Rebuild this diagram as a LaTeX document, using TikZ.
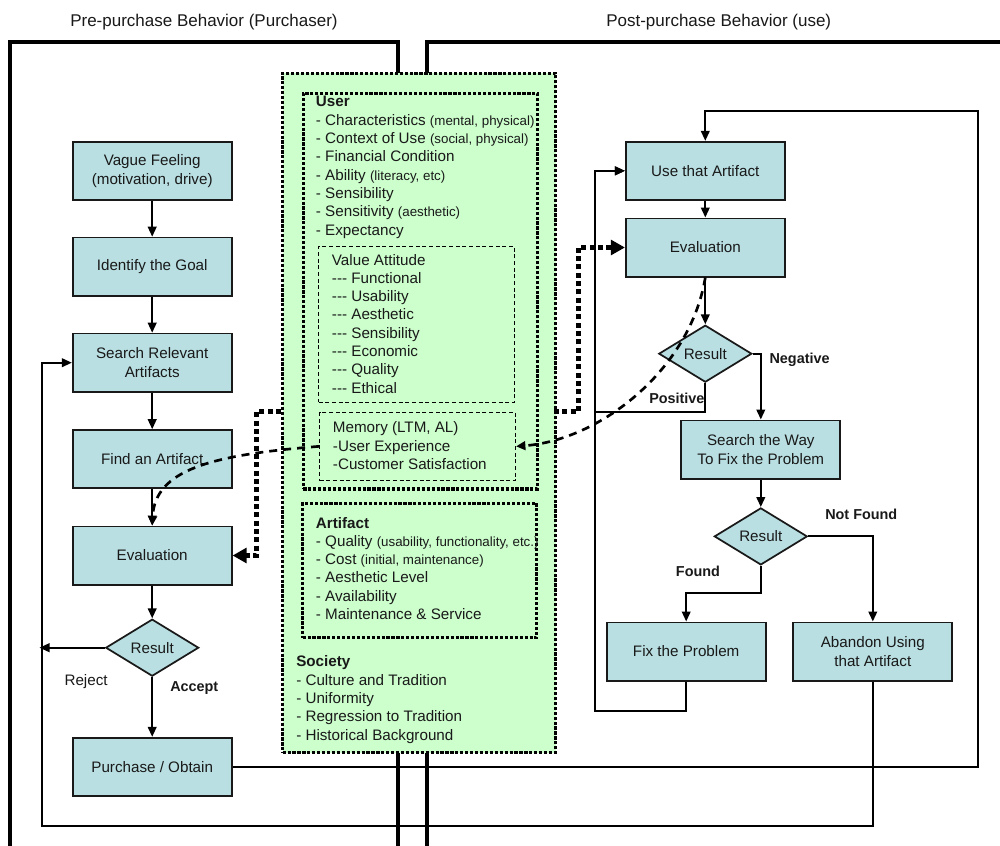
\documentclass[tikz,border=0pt]{standalone}
\usepackage{fontspec}
\setmainfont{Liberation Sans}
\usetikzlibrary{shapes.geometric,arrows.meta}
\definecolor{boxfill}{RGB}{185,223,226}
\definecolor{greenfill}{RGB}{204,255,204}
\definecolor{txt}{RGB}{25,25,25}
\newcommand\smtxt[1]{{\fontsize{10}{12}\selectfont #1}}
\begin{document}
\begin{tikzpicture}[x=0.75pt,y=-0.75pt,
  font=\fontsize{11.4}{14.25}\selectfont, text=txt,
  flowbox/.style={draw=black!90, line width=1.3pt, fill=boxfill, minimum width=119.25pt, minimum height=43.7pt, align=center, inner sep=0pt},
  decision/.style={diamond, draw=black!90, line width=1.3pt, fill=boxfill, minimum width=69.75pt, minimum height=42.75pt, inner sep=0pt},
  arr/.style={line width=1.4pt, -{Triangle[length=7.5pt,width=6.5pt]}},
  frameline/.style={line width=3pt},
  bigdot/.style={line width=3.75pt, dash pattern=on 3.75pt off 2.5pt, -{Triangle[length=10.5pt,width=11pt]}},
  dotbox/.style={draw, line width=2.4pt, dash pattern=on 2.4pt off 1.3pt, inner sep=0pt, anchor=north west},
  dashbox/.style={draw, line width=0.8pt, dash pattern=on 3pt off 2pt, inner sep=0pt, anchor=north west},
  dcurve/.style={line width=2pt, dash pattern=on 6pt off 4.5pt, -{Triangle[length=7pt,width=6.5pt]}},
  lab/.style={font=\fontsize{10.8}{13}\selectfont\bfseries, anchor=base west, inner sep=0pt},
  plainlab/.style={anchor=base west, inner sep=0pt},
  hdr/.style={font=\fontsize{12.75}{15}\selectfont, anchor=base west, inner sep=0pt}
]
\useasboundingbox (0,0) rectangle (1000,846);

% headers
\node[hdr] (h1) at (70,26.7) {Pre-purchase Behavior (Purchaser)};
\node[hdr] (h2) at (606,26.7) {Post-purchase Behavior (use)};

% frames
\draw[frameline] (10,850) -- (10,42.3) -- (398.3,42.3) -- (398.3,850);
\draw[frameline] (427,850) -- (427,42.3) -- (1005,42.3);

% green central area
\node[dotbox, fill=greenfill, minimum width=204.75pt, minimum height=509.5pt] (green) at (281,71.7) {};
\node[dotbox, minimum width=175.5pt, minimum height=296.7pt] (user) at (301.7,91.7) {};
\node[dashbox, minimum width=147pt, minimum height=116.8pt] (value) at (318,246) {};
\node[dashbox, minimum width=147pt, minimum height=51.2pt] (mem) at (319,411.7) {};
\node[dotbox, minimum width=175.5pt, minimum height=100.7pt] (artf) at (301,501.7) {};

\foreach \t [count=\i from 0] in {{\bfseries User}, {- Characteristics \smtxt{(mental, physical)}}, {- Context of Use \smtxt{(social, physical)}}, {- Financial Condition}, {- Ability \smtxt{(literacy, etc)}}, {- Sensibility}, {- Sensitivity \smtxt{(aesthetic)}}, {- Expectancy}}
  \node[plainlab] (u\i) at (315.7,106.7+18.33*\i) {\t};
\foreach \t [count=\i from 0] in {{Value Attitude}, {-{}-{}- Functional}, {-{}-{}- Usability}, {-{}-{}- Aesthetic}, {-{}-{}- Sensibility}, {-{}-{}- Economic}, {-{}-{}- Quality}, {-{}-{}- Ethical}}
  \node[plainlab] (v\i) at (331.7,265+18.33*\i) {\t};
\foreach \t [count=\i from 0] in {{Memory (LTM, AL)}, {-User Experience}, {-Customer Satisfaction}}
  \node[plainlab] (m\i) at (332.7,432.7+18.33*\i) {\t};
\foreach \t [count=\i from 0] in {{\bfseries Artifact}, {- Quality \smtxt{(usability, functionality, etc.)}}, {- Cost \smtxt{(initial, maintenance)}}, {- Aesthetic Level}, {- Availability}, {- Maintenance \& Service}}
  \node[plainlab] (a\i) at (315.7,528+18.33*\i) {\t};
\foreach \t [count=\i from 0] in {{\bfseries Society}, {- Culture and Tradition}, {- Uniformity}, {- Regression to Tradition}, {- Historical Background}}
  \node[plainlab] (s\i) at (296,666.7+18.33*\i) {\t};

% left flow
\node[flowbox] (vague) at (152.2,170.85) {Vague Feeling\\(motivation, drive)};
\node[flowbox] (goal) at (152.2,266.7) {Identify the Goal};
\node[flowbox] (search) at (152.2,362.7) {Search Relevant\\Artifacts};
\node[flowbox] (find) at (152.2,459.2) {Find an Artifact};
\node[flowbox] (evalL) at (152.2,555.5) {Evaluation};
\node[decision] (res0) at (152.2,647.7) {Result};
\node[flowbox] (purch) at (152.2,766.85) {Purchase / Obtain};

% right flow
\node[flowbox] (useA) at (705.3,170.85) {Use that Artifact};
\node[flowbox] (evalR) at (705.3,247.5) {Evaluation};
\node[decision] (res1) at (705.3,353.7) {Result};
\node[flowbox] (search2) at (760.8,449.5) {Search the Way\\To Fix the Problem};
\node[decision] (res2) at (760.8,536.4) {Result};
\node[flowbox] (fix) at (686.2,651.5) {Fix the Problem};
\node[flowbox] (aband) at (872.8,651.5) {Abandon Using\\that Artifact};

% left connectors
\draw[arr] (vague) -- (goal);
\draw[arr] (goal) -- (search);
\draw[arr] (search) -- (find);
\draw[arr] (find) -- (evalL);
\draw[arr] (evalL) -- (res0);
\draw[arr] (res0) -- (purch);
\coordinate (rej) at (39.5,647.7);
\draw[arr] (res0.west) -- (rej);
\node[plainlab] (lrej) at (64.3,685) {Reject};
\node[lab] (lacc) at (170,691.7) {Accept};

% right connectors
\draw[arr] (purch.east) -| (977.7,111) -| (useA.north);
\draw[arr] (useA) -- (evalR);
\draw[arr] (evalR) -- (res1);
\draw[arr] (res1.south) |- (595,412.3) |- (useA.west);
\draw[arr] (res1.east) -| (search2.north);
\draw[arr] (search2) -- (res2);
\draw[arr] (res2.south) |- (686.2,593.3) -- (fix.north);
\draw[arr] (res2.east) -| (aband.north);
\draw[arr] (fix.south) |- (595,711) |- (useA.west);
\draw[arr] (aband.south) |- (41.7,826) |- (search.west);
\node[lab] (lneg) at (769.3,363.3) {Negative};
\node[lab] (lpos) at (649,403.3) {Positive};
\node[lab] (lfound) at (675.7,576.7) {Found};
\node[lab] (lnf) at (825,519) {Not Found};

% influence connectors
\coordinate (gl) at (281,411.7);
\coordinate (gr) at (554,411.7);
\draw[bigdot] (gl) -- (256.7,411.7) |- (evalL.east);
\draw[bigdot] (gr) -- (578.3,411.7) |- (evalR.west);
\draw[dcurve] (mem.west) .. controls (210,455) and (155,470) .. (evalL.north);
\draw[dcurve] (evalR.south) .. controls (690,370) and (600,440) .. (mem.east);
\end{tikzpicture}
\end{document}
